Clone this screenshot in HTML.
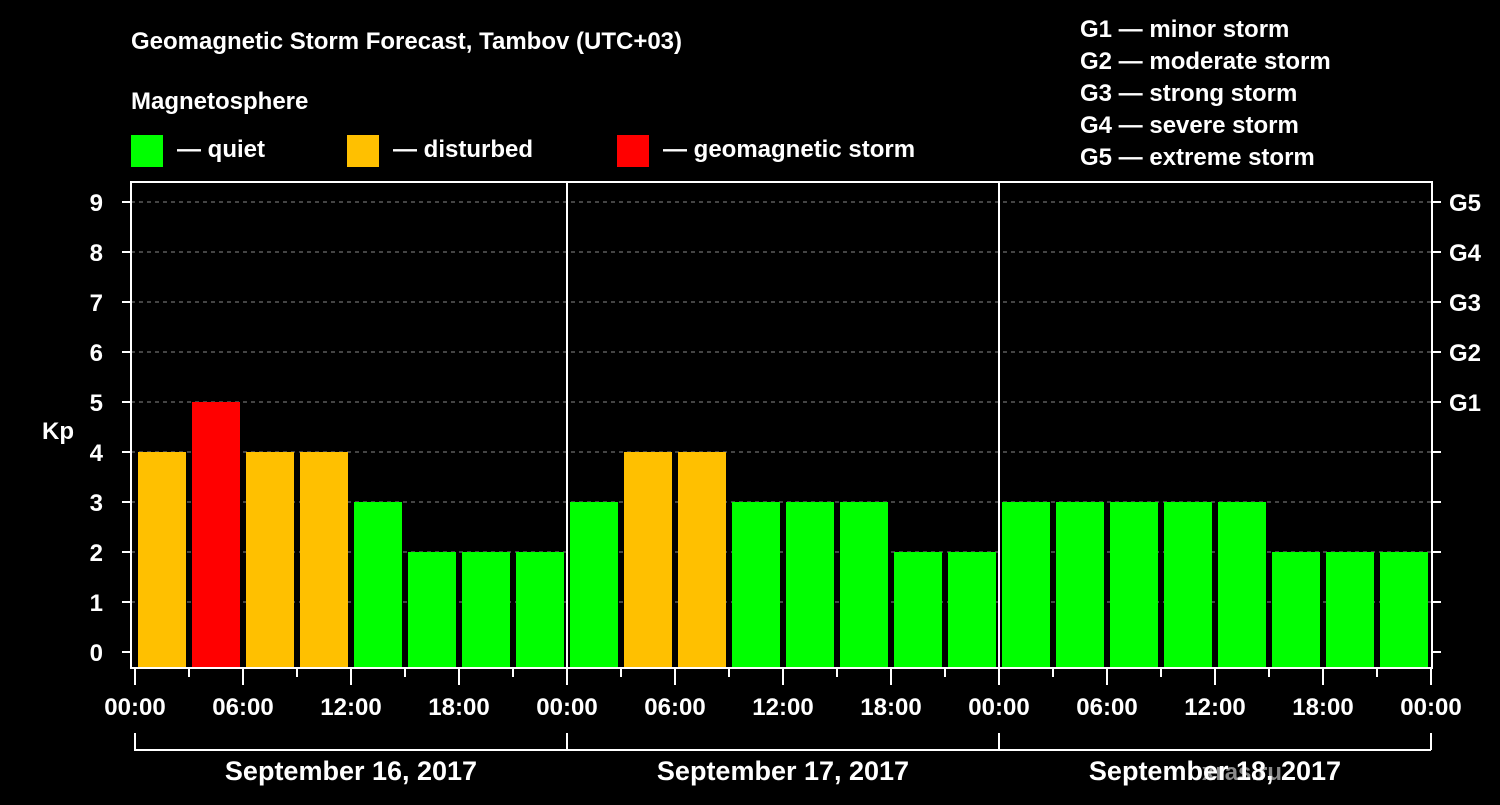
<!DOCTYPE html>
<html><head><meta charset="utf-8"><style>
body{margin:0;background:#000;width:1500px;height:800px;overflow:hidden}
svg text{font-family:"Liberation Sans",Arial,sans-serif;font-weight:bold;fill:#fff}
</style></head><body>
<svg id="c" width="1500" height="800">
<text x="131" y="49" font-size="24">Geomagnetic Storm Forecast, Tambov (UTC+03)</text>
<text x="131" y="109" font-size="24">Magnetosphere</text>
<g><rect x="131" y="135" width="32" height="32" fill="#00ff00"/><text x="177" y="157" font-size="24">— quiet</text></g>
<g><rect x="347" y="135" width="32" height="32" fill="#ffc000"/><text x="393" y="157" font-size="24">— disturbed</text></g>
<g><rect x="617" y="135" width="32" height="32" fill="#ff0000"/><text x="663" y="157" font-size="24">— geomagnetic storm</text></g>
<g font-size="24">
<text x="1080" y="37">G1 — minor storm</text><text x="1080" y="69">G2 — moderate storm</text><text x="1080" y="101">G3 — strong storm</text><text x="1080" y="133">G4 — severe storm</text><text x="1080" y="165">G5 — extreme storm</text></g>
<text x="42" y="439" font-size="24">Kp</text>
<text x="1202" y="780" font-size="24" fill="#888" style="fill:#8a8a8a">xras.ru</text>
<g id="plot"></g>
</svg>
<script>
const kpValues=[4,5,4,4,3,2,2,2,3,4,4,3,3,3,2,2,3,3,3,3,3,2,2,2];
const yTicks=[0,1,2,3,4,5,6,7,8,9];
const gLabels=["G1","G2","G3","G4","G5"];
const hourLabels=["00:00","06:00","12:00","18:00"];
const dayLabels=["September 16, 2017","September 17, 2017","September 18, 2017"];
const NS="http://www.w3.org/2000/svg";
const g=document.getElementById('plot');
const X0=135,DAYW=432,BASE=668;
const xs=i=>X0+i*54; // 3-hour slot
const ys=v=>652-v*50;
function el(t,a){const e=document.createElementNS(NS,t);for(const k in a)e.setAttribute(k,a[k]);g.appendChild(e);return e;}
function col(v){return v>=5?"#ff0000":v>=4?"#ffc000":"#00ff00";}
yTicks.forEach(v=>{
 if(v>0){const l=el('line',{x1:131,x2:1432,y1:ys(v),y2:ys(v),stroke:'#888','stroke-dasharray':'4,4','stroke-width':1});
 
 }
 const t=el('line',{x1:122,x2:131,y1:ys(v),y2:ys(v),stroke:'#fff','stroke-width':2});
 
 
 const r=el('line',{x1:1432,x2:1441,y1:ys(v),y2:ys(v),stroke:'#fff','stroke-width':2});
 
 
 const tx=el('text',{x:103,y:ys(v)+9,'font-size':24,'text-anchor':'end'});tx.textContent=v;
 
 
 if(v>=5){const gt=el('text',{x:1449,y:ys(v)+9,'font-size':24});gt.textContent=gLabels[v-5];
 
 }
});
kpValues.forEach((v,i)=>{
 const b=el('rect',{x:xs(i)+3,y:ys(v),width:48,height:BASE-ys(v),fill:col(v)});
 
 
});
const fr=el('rect',{x:131,y:182,width:1301,height:486,fill:'none',stroke:'#fff','stroke-width':2});


for(let d=1;d<3;d++){const l=el('line',{x1:X0+d*DAYW,x2:X0+d*DAYW,y1:182,y2:668,stroke:'#fff','stroke-width':2});
 
 }
for(let i=0;i<=24;i++){
 const major=i%2===0;
 const t=el('line',{x1:xs(i),x2:xs(i),y1:668,y2:major?685:677,stroke:'#fff','stroke-width':2});
 
 
 if(major){const tx=el('text',{x:xs(i),y:715,'font-size':24,'text-anchor':'middle'});tx.textContent=hourLabels[(i/2)%4];
 
 }
}
dayLabels.forEach((d,k)=>{
 const a=X0+k*DAYW;
 const p=el('path',{d:`M${a},733V750H${a+DAYW}`+(k===2?`M${a+DAYW},733V750`:''),stroke:'#fff','stroke-width':2,fill:'none'});
 
 
 const t=el('text',{x:a+DAYW/2,y:780,'font-size':27,'text-anchor':'middle'});t.textContent=d;
 
 
});
</script>
</body></html>
